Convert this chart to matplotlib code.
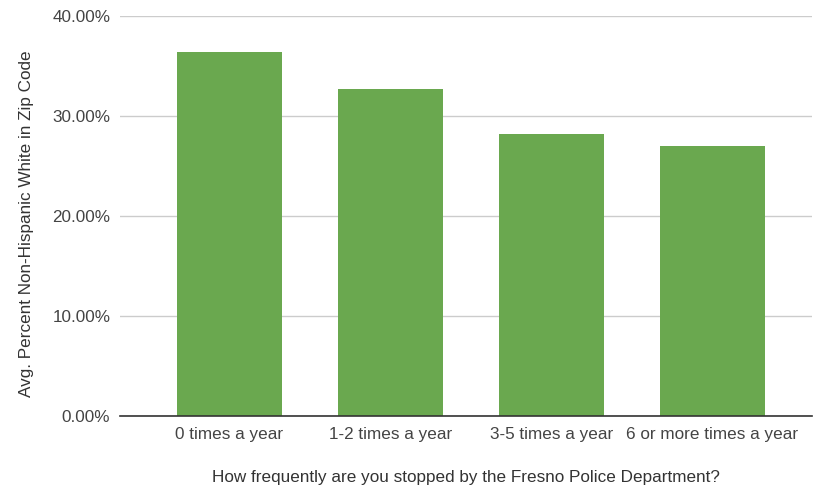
import matplotlib
matplotlib.use("Agg")
import matplotlib.pyplot as plt
from matplotlib.ticker import FuncFormatter

# -------- DATA --------
categories = ["0 times a year", "1-2 times a year", "3-5 times a year", "6 or more times a year"]
avg_pct_white = [36.4, 32.7, 28.2, 27.0]
y_ticks = [0, 10, 20, 30, 40]

plt.rcParams["font.family"] = ["Liberation Sans", "DejaVu Sans"]

fig = plt.figure(figsize=(8.13, 4.88), dpi=100)
ax = fig.add_axes([0.1476, 0.1475, 0.851, 0.8205])

ax.bar(range(len(categories)), avg_pct_white, width=0.652, color="#6aa84f", zorder=3)

# categories are not spread edge to edge; a bit more room on the left
ax.set_xlim(-0.68, len(categories) - 1 + 0.62)
ax.set_ylim(0, 40)
ax.set_yticks(y_ticks)
ax.yaxis.set_major_formatter(FuncFormatter(lambda v, _: f"{v:.2f}%"))
ax.set_xticks(range(len(categories)))
ax.set_xticklabels(categories)

ax.grid(axis="y", color="#cccccc", linewidth=1, zorder=0)
for side in ["top", "right", "left"]:
    ax.spines[side].set_visible(False)
ax.spines["bottom"].set_color("#333333")
ax.spines["bottom"].set_linewidth(1.2)
ax.spines["bottom"].set_zorder(4)

ax.tick_params(axis="both", length=0, labelsize=12.3, colors="#444444")
ax.tick_params(axis="x", pad=8)
ax.tick_params(axis="y", pad=7)

ax.set_xlabel("How frequently are you stopped by the Fresno Police Department?",
              fontsize=12.3, color="#333333", labelpad=20)
ax.set_ylabel("Avg. Percent Non-Hispanic White in Zip Code",
              fontsize=12.3, color="#333333")
ax.yaxis.set_label_coords(-0.125, 0.48)

fig.savefig("out.png", dpi=100)
